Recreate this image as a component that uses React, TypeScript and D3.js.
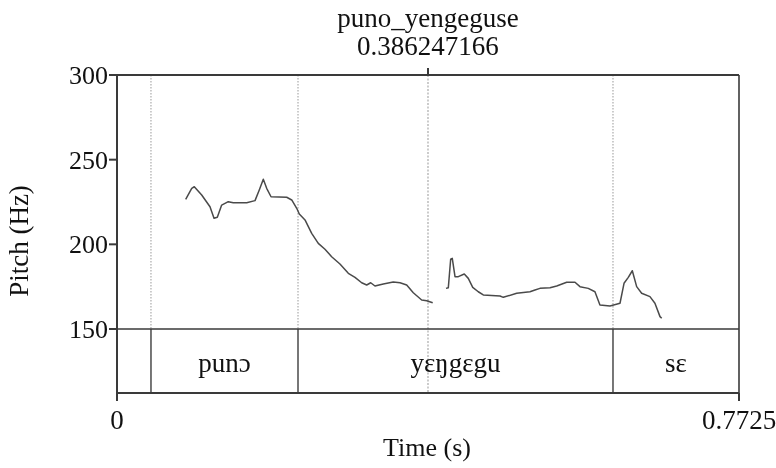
import React from "react";
import * as d3 from "d3";

// Pitch track (Hz) over time (s), two voiced stretches
const seg1Time = [0.0853, 0.0928, 0.096, 0.1052, 0.1155, 0.1205, 0.1246, 0.13, 0.1382, 0.1444, 0.1611, 0.1714, 0.1767, 0.1817, 0.1859, 0.1913, 0.2108, 0.217, 0.2232, 0.2264, 0.2335, 0.2418, 0.25, 0.2583, 0.2666, 0.2769, 0.2873, 0.2956, 0.3039, 0.3101, 0.3151, 0.3204, 0.3307, 0.3431, 0.3515, 0.3598, 0.368, 0.3784, 0.3846, 0.3921];
const seg1Hz = [226.6, 233.1, 234.0, 229.1, 222.2, 215.4, 216.0, 223.2, 225.2, 224.6, 224.6, 225.8, 232.1, 238.4, 233.1, 228.1, 227.8, 226.2, 221.3, 217.9, 214.4, 206.5, 200.6, 197.1, 192.7, 188.4, 182.9, 180.5, 177.3, 176.0, 177.3, 175.4, 176.6, 177.7, 177.3, 176.0, 171.4, 167.1, 166.7, 165.5];
const seg2Time = [0.4086, 0.4115, 0.4144, 0.4164, 0.4198, 0.4239, 0.4313, 0.4363, 0.4418, 0.4487, 0.4549, 0.4757, 0.4798, 0.4964, 0.5129, 0.5191, 0.5253, 0.5378, 0.5461, 0.5585, 0.5688, 0.575, 0.5853, 0.5936, 0.5998, 0.6123, 0.6247, 0.6297, 0.635, 0.64, 0.6454, 0.6516, 0.6619, 0.6681, 0.6744, 0.6765];
const seg2Hz = [174.0, 174.4, 191.2, 191.7, 180.9, 180.9, 182.5, 179.9, 174.6, 172.0, 170.1, 169.5, 168.7, 171.1, 172.0, 173.0, 174.0, 174.4, 175.4, 177.6, 177.6, 175.0, 174.0, 172.0, 164.2, 163.6, 165.2, 177.0, 180.5, 184.4, 175.0, 171.1, 169.1, 165.2, 157.3, 156.3];

// Text tier intervals
const tierBounds = [0, 0.0422, 0.2248, 0.616, 0.7725];
const tierLabels = ["", "punɔ", "yɛŋgɛgu", "sɛ"];

const yTicks = [150, 200, 250, 300];
const timeRange = [0, 0.7725];
const cursorTime = 0.386247166;
const fileName = "puno_yengeguse";

const W = 776;
const H = 468;
const left = 117;
const right = 739;
const top = 75;
const pitchBottom = 329;
const tierBottom = 393;

type TProps = {
  x?: number;
  y?: number;
  size: number;
  anchor?: string;
  transform?: string;
  children: React.ReactNode;
};

// Serif label text
function Label({ x, y, size, anchor = "middle", transform, children }: TProps) {
  return (
    <text
      x={x}
      y={y}
      transform={transform}
      textAnchor={anchor}
      fill="#111"
      style={{ fontFamily: `"Liberation Serif", monospace`, fontSize: `${size}px` }}
    >
      {children}
    </text>
  );
}

export default function App() {
  const x = d3.scaleLinear().domain(timeRange).range([left, right]);
  const y = d3.scaleLinear().domain([150, 300]).range([pitchBottom, top]);

  const line = d3
    .line<[number, number]>()
    .x((d) => x(d[0]))
    .y((d) => y(d[1]));

  const seg1 = seg1Time.map((t, i) => [t, seg1Hz[i]] as [number, number]);
  const seg2 = seg2Time.map((t, i) => [t, seg2Hz[i]] as [number, number]);

  const inner = tierBounds.slice(1, -1);
  const cx = x(cursorTime);
  const frame = "#3a3a3a";

  return (
    <svg width={W} height={H} style={{ position: "fixed", left: 0, top: 0 }}>
      {/* title: file name and cursor time */}
      <Label x={cx} y={27} size={27}>{fileName}</Label>
      <Label x={cx} y={55} size={27}>{cursorTime.toFixed(9)}</Label>

      {/* dotted boundary lines in pitch area */}
      {inner.map((b, i) => (
        <line
          key={"d" + i}
          x1={x(b)}
          x2={x(b)}
          y1={top}
          y2={pitchBottom}
          stroke="#999"
          strokeWidth={1}
          strokeDasharray="1.5,1.5"
        />
      ))}
      {/* cursor */}
      <line x1={cx} x2={cx} y1={top} y2={tierBottom} stroke="#aaa" strokeWidth={1.2} strokeDasharray="2,1.5" />
      <line x1={cx} x2={cx} y1={68} y2={top} stroke={frame} strokeWidth={2} />

      {/* tier boundaries */}
      {inner.map((b, i) => (
        <line key={"b" + i} x1={x(b)} x2={x(b)} y1={pitchBottom} y2={tierBottom} stroke="#555" strokeWidth={1.6} />
      ))}

      {/* pitch curve */}
      <path d={line(seg1) || ""} fill="none" stroke="#4a4a4a" strokeWidth={1.5} strokeLinejoin="round" />
      <path d={line(seg2) || ""} fill="none" stroke="#4a4a4a" strokeWidth={1.5} strokeLinejoin="round" />

      {/* frame */}
      <line x1={left} x2={right} y1={top} y2={top} stroke={frame} strokeWidth={2} />
      <line x1={left} x2={right} y1={pitchBottom} y2={pitchBottom} stroke={frame} strokeWidth={1.6} />
      <line x1={left} x2={right} y1={tierBottom} y2={tierBottom} stroke={frame} strokeWidth={2} />
      <line x1={left} x2={left} y1={top} y2={tierBottom} stroke={frame} strokeWidth={2} />
      <line x1={right} x2={right} y1={top} y2={tierBottom} stroke={frame} strokeWidth={1.6} />

      {/* y axis ticks */}
      {yTicks.map((v) => (
        <g key={v}>
          <line x1={left - 8} x2={left} y1={y(v)} y2={y(v)} stroke={frame} strokeWidth={2} />
          <Label x={left - 9} y={y(v) + 9} size={26} anchor="end">{v}</Label>
        </g>
      ))}
      <Label transform="translate(28,241) rotate(-90)" size={27}>Pitch (Hz)</Label>

      {/* tier labels */}
      {tierLabels.map((lab, i) =>
        lab ? (
          <Label key={"l" + i} x={(x(tierBounds[i]) + x(tierBounds[i + 1])) / 2} y={372} size={27}>
            {lab}
          </Label>
        ) : null
      )}

      {/* time axis */}
      {timeRange.map((t, i) => (
        <g key={"t" + i}>
          <line x1={x(t)} x2={x(t)} y1={tierBottom} y2={tierBottom + 8} stroke={frame} strokeWidth={2} />
          <Label x={x(t)} y={429} size={27}>{i === 0 ? "0" : String(t)}</Label>
        </g>
      ))}
      <Label x={427} y={456} size={26}>Time (s)</Label>
    </svg>
  );
}
